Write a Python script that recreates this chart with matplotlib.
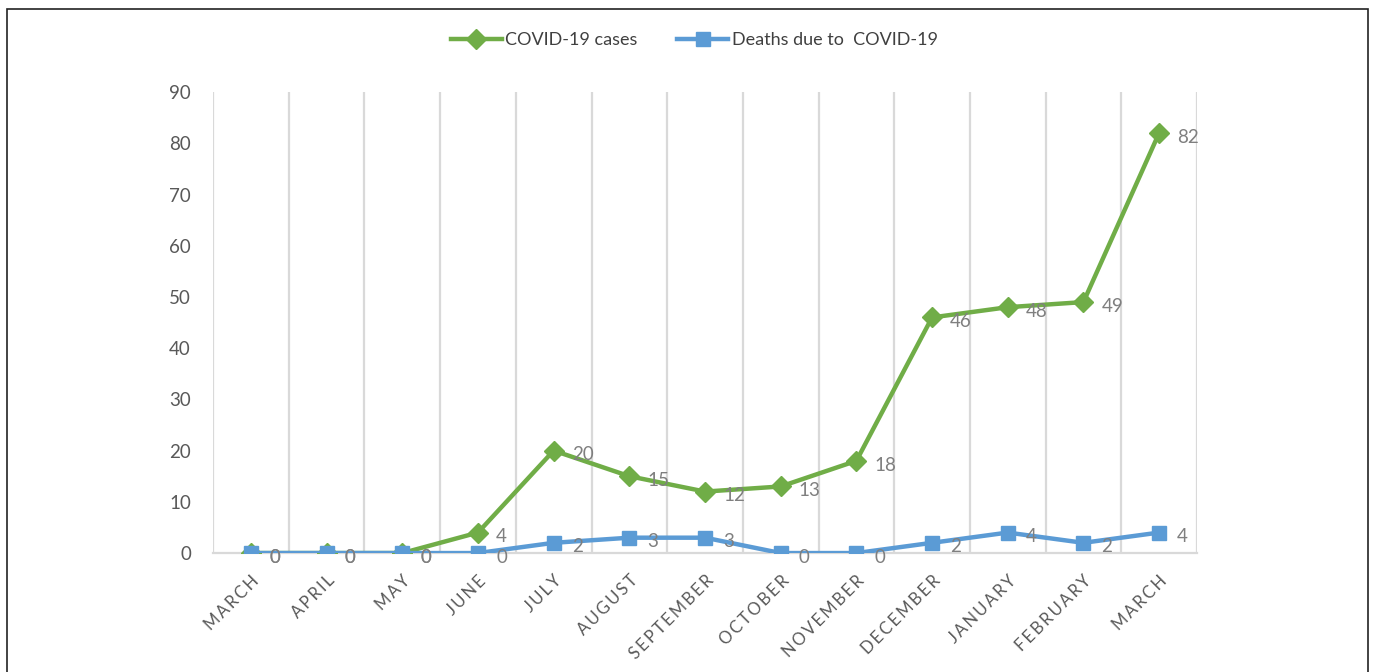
import matplotlib
matplotlib.use("Agg")
import matplotlib.pyplot as plt
from matplotlib.patches import Rectangle

months = ["MARCH", "APRIL", "MAY", "JUNE", "JULY", "AUGUST", "SEPTEMBER",
          "OCTOBER", "NOVEMBER", "DECEMBER", "JANUARY", "FEBRUARY", "MARCH"]
cases = [0, 0, 0, 4, 20, 15, 12, 13, 18, 46, 48, 49, 82]
deaths = [0, 0, 0, 0, 2, 3, 3, 0, 0, 2, 4, 2, 4]

GREEN = "#70AD47"
BLUE = "#5B9BD5"
GRID = "#D9D9D9"
TEXT = "#595959"
LABEL = "#7F7F7F"

plt.rcParams["font.family"] = ["Lato", "DejaVu Sans"]

fig = plt.figure(figsize=(13.75, 6.72), dpi=100)
ax = fig.add_axes([0.155, 0.177, 0.7155, 0.686])

x = list(range(len(months)))
ax.plot(x, cases, color=GREEN, lw=3.2, marker="D", ms=10, label="COVID-19 cases", zorder=3)
ax.plot(x, deaths, color=BLUE, lw=3.2, marker="s", ms=10.5, label="Deaths due to  COVID-19", zorder=4)

for xi, v in zip(x, cases):
    ax.annotate(str(v), (xi, v), xytext=(13, -3), textcoords="offset points",
                ha="left", va="center", fontsize=13.5, color=LABEL, zorder=5)
for xi, v in zip(x, deaths):
    ax.annotate(str(v), (xi, v), xytext=(13, -3), textcoords="offset points",
                ha="left", va="center", fontsize=13.5, color=LABEL, zorder=5)

# spaced-out month names, like the Excel rendering
spaced = ["\u2009".join(m) for m in months]

ax.set_xlim(-0.5, len(months) - 0.5)
ax.set_ylim(0, 90)
ax.set_yticks(range(0, 91, 10))
ax.set_xticks(x)
ax.set_xticklabels(spaced, rotation=45, ha="right", rotation_mode="anchor",
                   fontsize=12, color=TEXT)
ax.tick_params(axis="x", length=0, pad=14)
ax.tick_params(axis="y", length=0, pad=16, labelsize=13.5, labelcolor=TEXT)

# vertical gridlines between categories
for b in range(len(months) + 1):
    ax.axvline(b - 0.5, color=GRID, lw=1.6, zorder=1)

for s in ["top", "right", "left"]:
    ax.spines[s].set_visible(False)
ax.spines["bottom"].set_color(GRID)
ax.spines["bottom"].set_linewidth(1.6)

leg = fig.legend(loc="center", bbox_to_anchor=(0.505, 0.94), ncol=2, frameon=False,
                 fontsize=13, handlelength=2.8, columnspacing=2.2, handletextpad=0.2)
for t in leg.get_texts():
    t.set_color("#404040")

fig.patches.append(Rectangle((0.005, -0.01), 0.99, 0.996, transform=fig.transFigure,
                             fill=False, edgecolor="#222222", lw=1.2))

fig.savefig("out.png", dpi=100)
